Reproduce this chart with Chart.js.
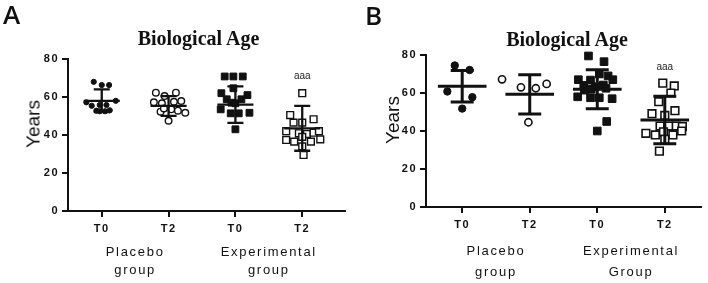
<!DOCTYPE html>
<html>
<head>
<meta charset="utf-8">
<title>Biological Age</title>
<script src="https://cdn.jsdelivr.net/npm/chart.js@4.4.1/dist/chart.umd.min.js"></script>
<style>
    html, body { margin: 0; padding: 0; background: #fff; }
    #figure {
        position: relative; width: 708px; height: 283px; overflow: hidden;
        font-family: "Liberation Sans", Arial, sans-serif; color: #111;
    }
    .panel { position: absolute; top: 0; width: 354px; height: 283px; }
    .panel canvas { position: absolute; left: 0; top: 0; }
    .txt { position: absolute; white-space: nowrap; line-height: 1; }
    .letter { font-family: "Open Sans", "Liberation Sans", sans-serif; font-weight: 600; font-size: 26px; }
    .title {
        font-family: "Liberation Serif", "Times New Roman", serif;
        font-weight: bold; font-size: 20px; transform: translate(-50%, -50%);
    }
    .ytitle { font-size: 19px; transform: translate(-50%, -50%) rotate(-90deg); }
    .group { font-size: 13px; text-align: center; letter-spacing: 1.7px; transform: translateX(-50%); }
</style>
</head>
<body>
<div id="figure">
    <div class="panel" id="panelA" style="left:0"><canvas id="chartA" width="354" height="283"></canvas></div>
    <div class="panel" id="panelB" style="left:354px"><canvas id="chartB" width="354" height="283"></canvas></div>
</div>
<script>
// ---- data ----
const categories = ['T0', 'T2', 'T0', 'T2'];
const yTicks = [0, 20, 40, 60, 80];
const chartTitle = 'Biological Age';
const yTitle = 'Years';
const sigText = 'aaa';

// Panel A
const groupsA = [['Placebo', 'group'], ['Experimental', 'group']];
const aPlaceboT0 = [68, 66.3, 66.3, 57.2, 58, 55.4, 55.8, 55.8, 52.8, 52.5, 52.5, 53];
const aPlaceboT0Jitter = [-0.12, 0, 0.11, -0.23, 0.21, -0.15, -0.03, 0.07, -0.08, -0.03, 0.05, 0.12];
const aPlaceboT2 = [62.3, 60.5, 62.3, 57.2, 56.7, 57.5, 57.9, 52.3, 53.5, 52.8, 51.7, 47.5, 54];
const aPlaceboT2Jitter = [-0.19, -0.06, 0.11, -0.22, -0.1, 0.08, 0.19, -0.12, 0.04, 0.14, 0.25, 0, -0.07];
const aExpT0 = [70.8, 70.8, 70.8, 64.6, 62, 61, 58.8, 57, 56.7, 58.8, 53.5, 51.4, 51.4, 51.7, 43];
const aExpT0Jitter = [-0.16, -0.03, 0.11, -0.03, -0.21, 0.18, -0.13, -0.06, 0, 0.09, -0.22, -0.07, 0.05, 0.21, 0];
const aExpT2 = [62, 50.5, 46.5, 48.3, 46.5, 42, 40.9, 40.5, 41.2, 42, 37.4, 36.5, 36.5, 37.7, 39, 29.5, 34];
const aExpT2Jitter = [0, -0.18, -0.13, 0.17, 0, -0.24, -0.05, 0.07, 0.17, 0.25, -0.24, -0.12, 0.13, 0.27, 0, 0.02, 0];
const aMeans = [58, 55.3, 56, 43.5];
const aSDs = [6, 5.2, 9.6, 11.8];
const aSigValue = 71;

// Panel B
const groupsB = [['Placebo', 'group'], ['Experimental', 'Group']];
const bPlaceboT0 = [74.5, 72.1, 60.8, 57.8, 51.8];
const bPlaceboT0Jitter = [-0.11, 0.11, -0.22, 0.15, 0];
const bPlaceboT2 = [67.2, 63, 62.5, 64.8, 44.6];
const bPlaceboT2Jitter = [-0.41, -0.13, 0.09, 0.25, -0.02];
const bExpT0 = [79.5, 76.5, 70, 67, 66.8, 69, 67, 64, 63.3, 64.2, 62, 58, 57.5, 57.5, 57, 45, 40, 61.5, 62.5];
const bExpT0Jitter = [-0.13, 0.1, 0.03, -0.28, -0.1, 0.16, 0.23, -0.2, -0.03, 0.09, -0.09, -0.29, -0.1, 0.03, 0.22, 0.14, 0, -0.19, 0.13];
const bExpT2 = [65.2, 63.7, 60, 55.4, 49.1, 50.7, 48.2, 42.6, 42.6, 42.6, 42.3, 38.8, 37.9, 39.6, 37.9, 40, 35.6, 29.4];
const bExpT2Jitter = [-0.03, 0.14, 0.09, -0.09, -0.19, 0.15, 0, -0.07, 0.06, 0.17, 0.26, -0.28, -0.14, -0.02, 0.12, 0.25, 0, -0.08];
const bMeans = [63.5, 59.3, 62, 45.8];
const bSDs = [8.3, 10.3, 10.3, 12.5];
const bSigValue = 73.8;

const INK = '#111';
const tickFont = { family: '"Liberation Sans", Arial, sans-serif', size: 11, weight: 'bold' };

// turn values + horizontal spread into scatter points for one column
function column(values, jitter, index) {
    return values.map((v, i) => ({ x: index + 1 + jitter[i], y: v }));
}

// mean line, SD whiskers and the significance mark, drawn through the scales
function meanSdPlugin(means, sds, sigValue, style) {
    return {
        id: 'meanSd',
        beforeDraw(chart) { chart.ctx.letterSpacing = '1.5px'; },
        afterDatasetsDraw(chart) {
            const { ctx, scales: { x, y } } = chart;
            ctx.save();
            ctx.letterSpacing = '0px';
            ctx.strokeStyle = INK;
            ctx.lineWidth = style.lineWidth;
            means.forEach((m, i) => {
                const g = i + 1;
                const cx = x.getPixelForValue(g);
                const yMean = y.getPixelForValue(m);
                const yHi = y.getPixelForValue(m + sds[i]);
                const yLo = y.getPixelForValue(m - sds[i]);
                ctx.beginPath();
                ctx.moveTo(x.getPixelForValue(g - style.meanHalf), yMean);
                ctx.lineTo(x.getPixelForValue(g + style.meanHalf), yMean);
                ctx.moveTo(cx, yHi);
                ctx.lineTo(cx, yLo);
                ctx.moveTo(x.getPixelForValue(g - style.capHalf), yHi);
                ctx.lineTo(x.getPixelForValue(g + style.capHalf), yHi);
                ctx.moveTo(x.getPixelForValue(g - style.capHalf), yLo);
                ctx.lineTo(x.getPixelForValue(g + style.capHalf), yLo);
                ctx.stroke();
            });
            ctx.font = '10px "Liberation Sans", Arial, sans-serif';
            ctx.fillStyle = '#222';
            ctx.textAlign = 'center';
            ctx.textBaseline = 'middle';
            ctx.fillText(sigText, x.getPixelForValue(4), y.getPixelForValue(sigValue));
            ctx.restore();
        },
        afterDraw(chart) { chart.ctx.letterSpacing = '0px'; }
    };
}

function makePanel(canvasId, series, means, sds, sigValue, layout) {
    const m = layout.markers;
    const datasets = [
        { data: column(series[0][0], series[0][1], 0), pointStyle: 'circle', pointRadius: m.dot,
          backgroundColor: INK, borderColor: INK, borderWidth: 1 },
        { data: column(series[1][0], series[1][1], 1), pointStyle: 'circle', pointRadius: m.ring,
          backgroundColor: '#fff', borderColor: INK, borderWidth: m.stroke },
        { data: column(series[2][0], series[2][1], 2), pointStyle: 'rect', pointRadius: m.square,
          backgroundColor: INK, borderColor: INK, borderWidth: 1 },
        { data: column(series[3][0], series[3][1], 3), pointStyle: 'rect', pointRadius: m.square,
          backgroundColor: '#fff', borderColor: INK, borderWidth: m.stroke }
    ].map(d => Object.assign(d, { clip: false, pointHoverRadius: d.pointRadius }));

    return new Chart(document.getElementById(canvasId), {
        type: 'scatter',
        data: { datasets: datasets },
        options: {
            responsive: false,
            animation: false,
            events: [],
            layout: { padding: { top: layout.top, right: layout.right, left: 0, bottom: 0 } },
            plugins: { legend: { display: false }, tooltip: { enabled: false } },
            scales: {
                x: {
                    type: 'linear', min: layout.xMin, max: layout.xMax,
                    afterBuildTicks: s => { s.ticks = categories.map((c, i) => ({ value: i + 1 })); },
                    afterFit: s => { s.height = layout.xHeight; },
                    ticks: { callback: v => categories[v - 1] || '', font: tickFont, color: INK,
                             padding: 5, maxRotation: 0, autoSkip: false },
                    grid: { drawOnChartArea: false, tickLength: 6, color: INK, lineWidth: 2 },
                    border: { color: INK, width: 2 }
                },
                y: {
                    min: 0, max: 80,
                    afterBuildTicks: s => { s.ticks = yTicks.map(v => ({ value: v })); },
                    afterFit: s => { s.width = layout.yWidth; },
                    ticks: { font: tickFont, color: INK, padding: 3 },
                    grid: { drawOnChartArea: false, tickLength: 6, color: INK, lineWidth: 2 },
                    border: { color: INK, width: 2 }
                }
            }
        },
        plugins: [meanSdPlugin(means, sds, sigValue, layout.bars)]
    });
}

function addText(panel, text, cls, left, top, extra) {
    const el = document.createElement('div');
    el.className = 'txt ' + cls;
    el.style.left = left + 'px';
    el.style.top = top + 'px';
    if (extra) Object.assign(el.style, extra);
    el.innerHTML = text;
    document.getElementById(panel).appendChild(el);
}

function addGroupLabels(panel, chart, groups, top, lineHeight) {
    const x = chart.scales.x;
    groups.forEach((lines, i) => {
        addText(panel, lines.join('<br>'), 'group', x.getPixelForValue(2 * i + 1.5), top,
                { lineHeight: lineHeight + 'px' });
    });
}

const chartA = makePanel('chartA',
    [[aPlaceboT0, aPlaceboT0Jitter], [aPlaceboT2, aPlaceboT2Jitter], [aExpT0, aExpT0Jitter], [aExpT2, aExpT2Jitter]],
    aMeans, aSDs, aSigValue,
    { top: 59, right: 9, yWidth: 68, xHeight: 72, xMin: 0.495, xMax: 4.64,
      markers: { dot: 2.6, ring: 3.3, square: 4.8, stroke: 1.4 },
      bars: { lineWidth: 2.3, meanHalf: 0.27, capHalf: 0.12 } });

const chartB = makePanel('chartB',
    [[bPlaceboT0, bPlaceboT0Jitter], [bPlaceboT2, bPlaceboT2Jitter], [bExpT0, bExpT0Jitter], [bExpT2, bExpT2Jitter]],
    bMeans, bSDs, bSigValue,
    { top: 55, right: 1, yWidth: 72, xHeight: 76, xMin: 0.464, xMax: 4.536,
      markers: { dot: 3.7, ring: 3.6, square: 5.4, stroke: 1.6 },
      bars: { lineWidth: 3, meanHalf: 0.36, capHalf: 0.17 } });

// panel letters, titles and axis titles
addText('panelA', 'A', 'letter', 3, 1);
addText('panelB', 'B', 'letter', 11, 2);
addText('panelA', chartTitle, 'title', 198.5, 38);
addText('panelB', chartTitle, 'title', 213, 39);
addText('panelA', yTitle, 'ytitle', 33, 124);
addText('panelB', yTitle, 'ytitle', 38, 120);
addGroupLabels('panelA', chartA, groupsA, 243, 18);
addGroupLabels('panelB', chartB, groupsB, 240, 21);
</script>
</body>
</html>
